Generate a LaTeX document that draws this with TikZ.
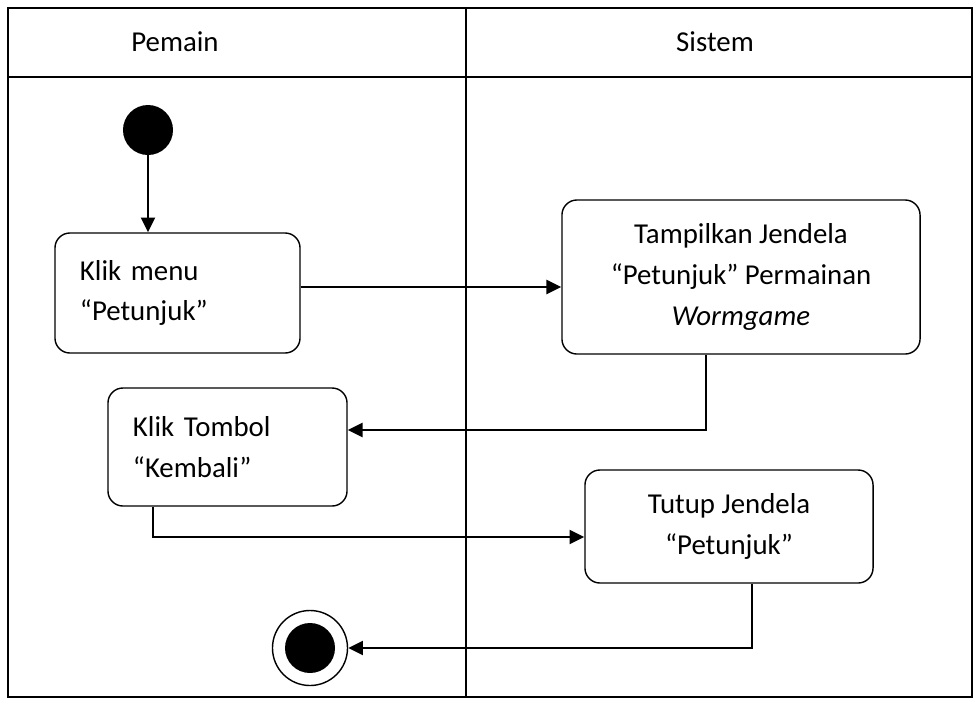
\documentclass[tikz,border=0pt]{standalone}
\usepackage{fontspec}
\setmainfont{Carlito}
\usetikzlibrary{arrows.meta,positioning}

\begin{document}
\begin{tikzpicture}[x=0.025cm, y=-0.025cm, font=\fontsize{20.5}{29}\selectfont]
\tikzset{actbox/.style = {shape=rectangle, rounded corners=0.375cm, draw, line width=1pt, inner ysep=0pt}}
\tikzset{leftbox/.style = {actbox, align=left, inner xsep=0.625cm}}
\tikzset{midbox/.style = {actbox, align=center}}
\tikzset{flow/.style = {-{Triangle[length=10.5pt,width=10pt]}, line width=1.4pt}}
\tikzset{startnode/.style = {shape=circle, fill, minimum size=1.25cm, inner sep=0pt}}
\tikzset{endnode/.style = {shape=circle, draw, line width=1pt, minimum size=1.875cm, inner sep=0pt,
    path picture={\fill (path picture bounding box.center) circle (0.625cm);}}}
	\useasboundingbox (0,0) rectangle (980,700);

	% lanes
	\draw[line width=1pt] (8,8) rectangle (972,697);
	\draw[line width=1pt] (8,77) -- (972,77);
	\draw[line width=1pt] (466,8) -- (466,697);
	\node (pemain) at (175,42) {Pemain};
	\node (sistem) at (715,42) {Sistem};

	\node[startnode] (mulai) at (148,130) {};
	\node[leftbox, minimum width=6.125cm, minimum height=3cm, text width=4.875cm] (klikmenu) at (177.5,293) {Klik menu\\“Petunjuk”};
	\node[midbox, minimum width=8.95cm, minimum height=3.85cm] (tampil) at (741,277) {Tampilkan Jendela\\“Petunjuk” Permainan\\\textit{Wormgame}};
	\node[leftbox, minimum width=5.975cm, minimum height=2.95cm, text width=4.725cm] (kembali) at (227.5,447) {Klik Tombol\\“Kembali”};
	\node[midbox, minimum width=7.2cm, minimum height=2.825cm] (tutup) at (729,526.5) {Tutup Jendela\\“Petunjuk”};
	\node[endnode] (akhir) at (310,648) {};

	\coordinate (b0) at (300,287);
	\coordinate (b1) at (706,430);
	\coordinate (b2) at (153,537);
	\coordinate (b3) at (752,648);

	\draw[flow] (mulai) -- (klikmenu.north -| mulai);
	\draw[flow] (klikmenu.east |- b0) -- (tampil.west |- b0);
	\draw[flow] (tampil.south -| b1) -- (b1) -- (kembali.east |- b1);
	\draw[flow] (kembali.south -| b2) -- (b2) -- (tutup.west |- b2);
	\draw[flow] (tutup.south -| b3) -- (b3) -- (akhir);
\end{tikzpicture}
\end{document}
